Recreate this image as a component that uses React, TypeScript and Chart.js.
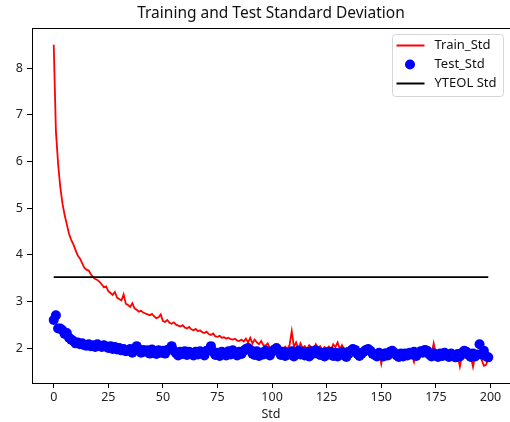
import React, { useEffect, useRef } from "react";
import { Chart, registerables } from "chart.js";

Chart.register(...registerables);

const chartTitle = "Training and Test Standard Deviation";
const xAxisTitle = "Std";
const seriesNames = ["Train_Std", "Test_Std", "YTEOL Std"];
const xTicks = [0, 25, 50, 75, 100, 125, 150, 175, 200];
const yTicks = [2, 3, 4, 5, 6, 7, 8];

const trainStd = [
  8.5, 6.65, 5.95, 5.45, 5.1, 4.85, 4.65, 4.45, 4.32, 4.22,
  4.1, 3.98, 3.92, 3.82, 3.72, 3.68, 3.66, 3.58, 3.52, 3.48,
  3.46, 3.42, 3.36, 3.3, 3.32, 3.22, 3.18, 3.14, 3.2, 3.08,
  3.05, 3.02, 3.15, 2.95, 2.92, 2.88, 2.96, 2.85, 2.82, 2.78,
  2.8, 2.76, 2.74, 2.72, 2.7, 2.73, 2.68, 2.64, 2.66, 2.72,
  2.58, 2.56, 2.6, 2.54, 2.52, 2.55, 2.5, 2.48, 2.46, 2.49,
  2.44, 2.42, 2.45, 2.4, 2.38, 2.41, 2.36, 2.38, 2.34, 2.32,
  2.35, 2.3, 2.28, 2.31, 2.25, 2.24, 2.26, 2.22, 2.23, 2.2,
  2.22, 2.19, 2.18, 2.2, 2.16, 2.15, 2.18, 2.14, 2.2, 2.12,
  2.22, 2.1, 2.18, 2.12, 2.08, 2.15, 2.06, 2.05, 2.1, 1.98,
  2.04, 2.02, 1.98, 2.05, 2.0, 1.96, 2.03, 1.98, 2.06, 2.36,
  2.02, 2.12, 1.98, 2.1, 2.0, 2.04, 1.97, 2.06, 2.02, 1.98,
  2.08, 1.99, 2.04, 1.96, 2.02, 1.98, 2.03, 1.95, 2.08, 2.02,
  2.12, 1.98, 2.06, 1.97, 2.0, 1.92, 1.96, 1.9, 1.94, 1.88,
  1.92, 1.9, 1.94, 1.88, 1.92, 1.86, 1.9, 1.94, 1.88, 1.92,
  1.66, 1.9, 1.88, 1.93, 1.86, 1.9, 1.84, 1.92, 1.88, 1.86,
  1.9, 1.84, 1.88, 1.92, 1.86, 1.7, 1.88, 1.92, 1.86, 1.9,
  1.84, 1.88, 1.92, 1.86, 2.1, 1.86, 1.9, 1.84, 1.88, 1.86,
  1.9, 1.84, 1.86, 1.8, 1.88, 1.82, 1.6, 1.86, 1.8, 1.84,
  1.78, 1.82, 1.6, 1.84, 1.8, 1.86, 1.74, 1.62, 1.64, 1.78,
];

const testStd = [
  2.6, 2.7, 2.42, 2.42, 2.38, 2.3, 2.32, 2.22, 2.18, 2.15,
  2.1, 2.12, 2.08, 2.1, 2.06, 2.05, 2.08, 2.04, 2.06, 2.02,
  2.08, 2.05, 2.02, 2.06, 2.03, 2.0, 2.04, 1.98, 2.02, 1.97,
  2.0, 1.95, 1.98, 1.93, 1.94, 1.98, 1.9, 1.96, 2.04, 1.94,
  1.9, 1.96, 1.92, 1.95, 1.88, 1.97, 1.93, 1.87, 1.95, 1.9,
  1.94, 1.88, 1.96, 1.98, 2.04, 1.94, 1.89, 1.84, 1.92, 1.87,
  1.93, 1.85, 1.92, 1.89, 1.84, 1.92, 1.86, 1.93, 1.88, 1.84,
  1.94, 1.96, 2.04, 1.92, 1.85, 1.9, 1.83, 1.92, 1.87, 1.84,
  1.93, 1.86, 1.95, 1.9, 1.84, 1.92, 1.87, 1.94, 1.98, 2.0,
  1.96, 1.88, 1.85, 1.93, 1.83, 1.9, 1.86, 1.94, 1.9, 1.84,
  1.92, 1.96, 2.0, 1.94, 1.85, 1.92, 1.83, 1.9, 1.86, 1.93,
  1.82, 1.9, 1.94, 1.86, 1.92, 1.84, 1.91, 1.82, 1.93, 1.88,
  1.95, 1.92, 1.85, 1.9, 1.82, 1.91, 1.86, 1.92, 1.83, 1.9,
  1.82, 1.88, 1.92, 1.84, 1.81, 1.87, 1.94, 1.98, 1.96, 1.88,
  1.83, 1.88, 1.92, 1.96, 1.98, 1.94, 1.88, 1.85, 1.82, 1.9,
  1.86, 1.82, 1.89, 1.84, 1.92, 1.94, 1.9, 1.84, 1.81, 1.88,
  1.82, 1.88, 1.84, 1.9, 1.86, 1.92, 1.83, 1.89, 1.93, 1.9,
  1.96, 1.94, 1.86, 1.82, 1.89, 1.84, 1.81, 1.88, 1.83, 1.9,
  1.85, 1.81, 1.88, 1.83, 1.8, 1.87, 1.82, 1.9, 1.94, 1.92,
  1.85, 1.81, 1.88, 1.82, 1.86, 2.08, 1.86, 1.94, 1.82, 1.8,
];

const yteolStd = 3.52;

const FONT = "'Noto Sans', 'DejaVu Sans', sans-serif";
const COLORS = ["#ff0000", "#0000ff", "#000000"];

const framePlugin = {
  id: "frameAndLegend",
  beforeDraw(chart: any) {
    // title centred over the axes, like matplotlib
    const { ctx, chartArea } = chart;
    ctx.save();
    ctx.fillStyle = "#111";
    ctx.font = `15.5px ${FONT}`;
    ctx.textAlign = "center";
    ctx.textBaseline = "middle";
    ctx.fillText(chartTitle, (chartArea.left + chartArea.right) / 2, 14);
    ctx.restore();
  },
  afterDraw(chart: any) {
    const { ctx, chartArea } = chart;
    ctx.save();
    // top spine
    ctx.strokeStyle = "#000";
    ctx.lineWidth = 1;
    ctx.beginPath();
    ctx.moveTo(chartArea.left, Math.round(chartArea.top) + 0.5);
    ctx.lineTo(chartArea.right, Math.round(chartArea.top) + 0.5);
    ctx.stroke();

    // legend box (upper right, inside axes)
    const w = 111;
    const h = 62;
    const x = Math.round(chartArea.right - 7 - w) + 0.5;
    const y = Math.round(chartArea.top + 6) + 0.5;
    const r = 3;
    ctx.beginPath();
    ctx.moveTo(x + r, y);
    ctx.lineTo(x + w - r, y);
    ctx.quadraticCurveTo(x + w, y, x + w, y + r);
    ctx.lineTo(x + w, y + h - r);
    ctx.quadraticCurveTo(x + w, y + h, x + w - r, y + h);
    ctx.lineTo(x + r, y + h);
    ctx.quadraticCurveTo(x, y + h, x, y + h - r);
    ctx.lineTo(x, y + r);
    ctx.quadraticCurveTo(x, y, x + r, y);
    ctx.closePath();
    ctx.fillStyle = "rgba(255,255,255,0.8)";
    ctx.fill();
    ctx.strokeStyle = "#d6d6d6";
    ctx.stroke();

    const rows = [11, 30, 49];
    ctx.font = `13px ${FONT}`;
    ctx.textBaseline = "middle";
    ctx.textAlign = "left";
    seriesNames.forEach((name, i) => {
      const cy = y + rows[i];
      if (i === 1) {
        ctx.fillStyle = COLORS[i];
        ctx.beginPath();
        ctx.arc(x + 17.5, cy, 5, 0, Math.PI * 2);
        ctx.fill();
      } else {
        ctx.strokeStyle = COLORS[i];
        ctx.lineWidth = 2;
        ctx.beginPath();
        ctx.moveTo(x + 4, cy);
        ctx.lineTo(x + 32, cy);
        ctx.stroke();
      }
      ctx.fillStyle = "#111";
      ctx.fillText(name, x + 42, cy);
    });
    ctx.restore();
  },
};

export default function App() {
  const canvasRef = useRef<HTMLCanvasElement | null>(null);

  useEffect(() => {
    document.body.style.margin = "0";
    const canvas = canvasRef.current;
    if (!canvas) return;
    const lastIndex = trainStd.length - 1;
    const chart = new Chart(canvas, {
      type: "scatter",
      data: {
        datasets: [
          {
            label: seriesNames[0],
            data: trainStd.map((v, i) => ({ x: i, y: v })),
            showLine: true,
            borderColor: COLORS[0],
            borderWidth: 1.8,
            pointRadius: 0,
            tension: 0,
            order: 2,
          },
          {
            label: seriesNames[1],
            data: testStd.map((v, i) => ({ x: i, y: v })),
            showLine: false,
            backgroundColor: COLORS[1],
            pointBackgroundColor: COLORS[1],
            pointBorderWidth: 0,
            pointRadius: 5,
            order: 1,
          },
          {
            label: seriesNames[2],
            data: [
              { x: 0, y: yteolStd },
              { x: lastIndex, y: yteolStd },
            ],
            showLine: true,
            borderColor: COLORS[2],
            borderWidth: 1.8,
            pointRadius: 0,
            order: 0,
          },
        ],
      },
      options: {
        animation: false,
        responsive: false,
        maintainAspectRatio: false,
        layout: { autoPadding: false, padding: { left: 0, right: 0, top: 28, bottom: 0 } },
        plugins: {
          legend: { display: false },
          tooltip: { enabled: false },
          title: { display: false },
        },
        scales: {
          x: {
            type: "linear",
            min: -9.95,
            max: 208.95,
            afterBuildTicks: (scale: any) => {
              scale.ticks = xTicks.map((v) => ({ value: v }));
            },
            afterFit: (scale: any) => {
              scale.height = 39;
              scale.paddingLeft = 0;
              scale.paddingRight = 0;
            },
            ticks: {
              color: "#222",
              font: { family: FONT, size: 12.5 },
              padding: 2,
              maxRotation: 0,
              autoSkip: false,
            },
            grid: {
              drawOnChartArea: false,
              drawTicks: true,
              tickLength: 5,
              color: "#000",
            },
            border: { display: true, color: "#000", width: 1 },
            title: {
              display: true,
              text: xAxisTitle,
              color: "#222",
              font: { family: FONT, size: 12.5 },
              padding: { top: 0, bottom: 0 },
            },
          },
          y: {
            type: "linear",
            min: 1.25,
            max: 8.86,
            afterBuildTicks: (scale: any) => {
              scale.ticks = yTicks.map((v) => ({ value: v }));
            },
            afterFit: (scale: any) => {
              scale.width = 32;
              scale.paddingTop = 0;
              scale.paddingBottom = 0;
            },
            ticks: {
              color: "#222",
              font: { family: FONT, size: 12.5 },
              padding: 4,
              autoSkip: false,
            },
            grid: {
              drawOnChartArea: false,
              drawTicks: true,
              tickLength: 5,
              color: "#000",
            },
            border: { display: true, color: "#000", width: 1 },
          },
        },
      },
      plugins: [framePlugin],
    });
    return () => chart.destroy();
  }, []);

  return (
    <div style={{ width: 510, height: 422 }}>
      <canvas ref={canvasRef} width={510} height={422} />
    </div>
  );
}
